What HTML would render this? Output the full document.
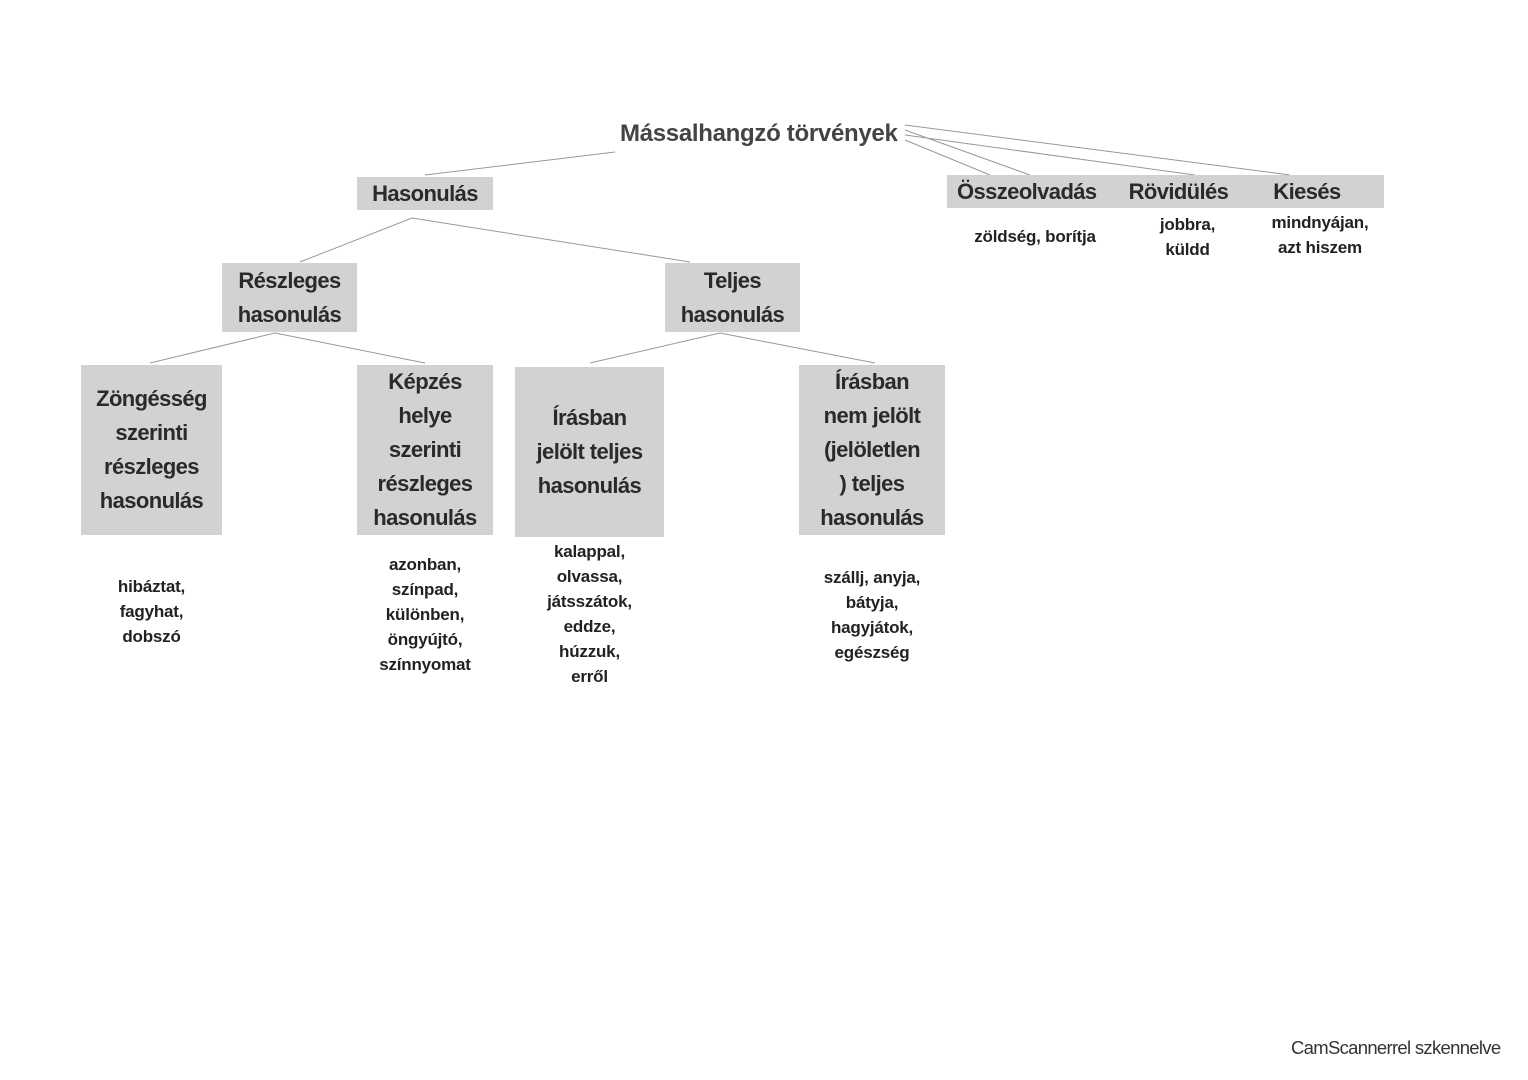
<!DOCTYPE html>
<html><head><meta charset="utf-8">
<style>
body{margin:0;width:1528px;height:1080px;background:#fff;position:relative;overflow:hidden;font-family:"Liberation Sans",sans-serif;}
.b{position:absolute;background:#d2d2d2;color:#2a2a2a;font-weight:bold;font-size:22px;line-height:34px;text-align:center;display:flex;align-items:center;justify-content:center;letter-spacing:-0.6px}
.t{position:absolute;color:#222;font-weight:bold;font-size:17px;line-height:25px;text-align:center;letter-spacing:-0.2px}
svg{position:absolute;left:0;top:0}
</style></head><body>
<svg width="1528" height="1080">
<g stroke="#999" stroke-width="1" fill="none">
<line x1="615" y1="152" x2="425" y2="175"/>
<line x1="905" y1="130" x2="1030" y2="175"/>
<line x1="905" y1="135" x2="1195" y2="175"/>
<line x1="905" y1="125" x2="1290" y2="175"/>
<line x1="905" y1="140" x2="990" y2="175"/>
<line x1="412" y1="218" x2="300" y2="262"/>
<line x1="412" y1="218" x2="690" y2="262"/>
<line x1="275" y1="333" x2="150" y2="363"/>
<line x1="275" y1="333" x2="425" y2="363"/>
<line x1="720" y1="333" x2="590" y2="363"/>
<line x1="720" y1="333" x2="875" y2="363"/>
</g>
</svg>
<div style="position:absolute;left:620px;top:120px;font-weight:bold;font-size:24px;color:#444;letter-spacing:-0.3px">Mássalhangzó törvények</div>
<div class="b" style="left:357px;top:177px;width:136px;height:33px">Hasonulás</div>
<div class="b" style="left:947px;top:175px;width:437px;height:33px;justify-content:flex-start"><span style="margin-left:10px">Összeolvadás</span><span style="margin-left:32px">Rövidülés</span><span style="margin-left:45px">Kiesés</span></div>
<div class="t" style="left:955px;top:224px;width:160px">zöldség, borítja</div>
<div class="t" style="left:1130px;top:212px;width:115px">jobbra,<br>küldd</div>
<div class="t" style="left:1255px;top:210px;width:130px">mindnyájan,<br>azt hiszem</div>
<div class="b" style="left:222px;top:263px;width:135px;height:69px">Részleges<br>hasonulás</div>
<div class="b" style="left:665px;top:263px;width:135px;height:69px">Teljes<br>hasonulás</div>
<div class="b" style="left:81px;top:365px;width:141px;height:170px">Zöngésség<br>szerinti<br>részleges<br>hasonulás</div>
<div class="b" style="left:357px;top:365px;width:136px;height:170px">Képzés<br>helye<br>szerinti<br>részleges<br>hasonulás</div>
<div class="b" style="left:515px;top:367px;width:149px;height:170px">Írásban<br>jelölt teljes<br>hasonulás</div>
<div class="b" style="left:799px;top:365px;width:146px;height:170px">Írásban<br>nem jelölt<br>(jelöletlen<br>) teljes<br>hasonulás</div>
<div class="t" style="left:81px;top:574px;width:141px">hibáztat,<br>fagyhat,<br>dobszó</div>
<div class="t" style="left:357px;top:552px;width:136px">azonban,<br>színpad,<br>különben,<br>öngyújtó,<br>színnyomat</div>
<div class="t" style="left:515px;top:539px;width:149px">kalappal,<br>olvassa,<br>játsszátok,<br>eddze,<br>húzzuk,<br>erről</div>
<div class="t" style="left:799px;top:565px;width:146px">szállj, anyja,<br>bátyja,<br>hagyjátok,<br>egészség</div>
<div style="position:absolute;left:1291px;top:1037px;font-size:18.5px;color:#333;letter-spacing:-0.7px">CamScannerrel szkennelve</div>
</body></html>
